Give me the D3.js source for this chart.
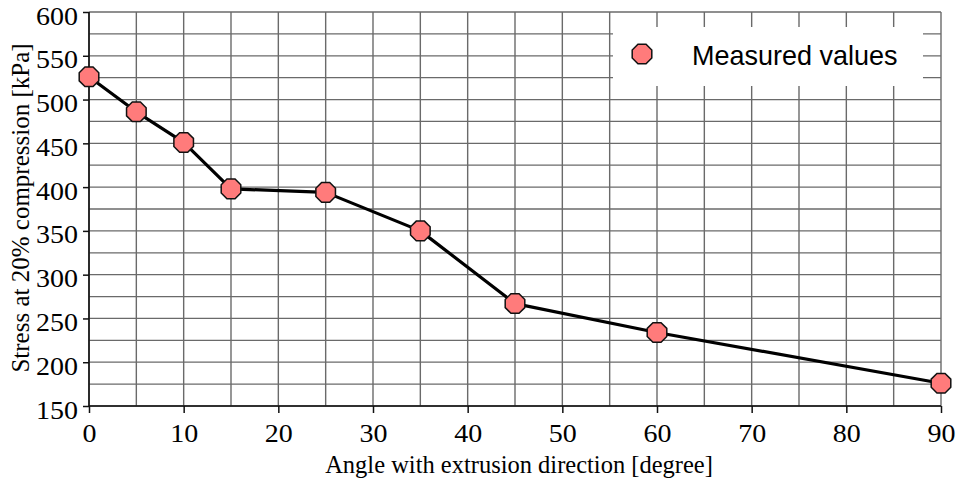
<!DOCTYPE html>
<html>
<head>
<meta charset="utf-8">
<script src="https://cdn.jsdelivr.net/npm/d3@7"></script>
<style>
  html, body { margin: 0; padding: 0; background: #fff; }
  svg { display: block; }
</style>
</head>
<body>
<svg id="chart" width="958" height="479"></svg>
<script>
// Compression stress versus angle to the extrusion direction
const angles = [0, 5, 10, 15, 25, 35, 45, 60, 90];
const stress = [526, 486, 451, 398, 394, 350, 267, 234, 176];
const xTickLabels = [0, 10, 20, 30, 40, 50, 60, 70, 80, 90];
const yTickLabels = [150, 200, 250, 300, 350, 400, 450, 500, 550, 600];
const xGridValues = d3.range(0, 91, 5);
const yGridValues = d3.range(150, 601, 25);
const seriesName = "Measured values";
const xTitle = "Angle with extrusion direction [degree]";
const yTitle = "Stress at 20% compression [kPa]";

const svg = d3.select("#chart");
const plotLeft = 89, plotRight = 941, plotTop = 12, plotBottom = 406;

const x = d3.scaleLinear().domain([0, 90]).range([plotLeft, plotRight]);
const y = d3.scaleLinear().domain([150, 600]).range([plotBottom, plotTop]);

const serif = "'Liberation Serif', 'Times New Roman', serif";
const sans = "'Liberation Sans', Arial, sans-serif";
const gridColor = "#6a6a6a";

// grid
const grid = svg.append("g");
grid.selectAll("line.v").data(xGridValues).join("line")
  .attr("class", "v")
  .attr("x1", d => x(d)).attr("x2", d => x(d))
  .attr("y1", plotTop).attr("y2", plotBottom)
  .attr("stroke", gridColor).attr("stroke-width", 1.4);
grid.selectAll("line.h").data(yGridValues).join("line")
  .attr("class", "h")
  .attr("x1", plotLeft).attr("x2", plotRight)
  .attr("y1", d => y(d)).attr("y2", d => y(d))
  .attr("stroke", gridColor).attr("stroke-width", 1.3);

// axes
const xAxis = d3.axisBottom(x).tickValues(xTickLabels).tickSize(7).tickFormat(d3.format("d"));
const yAxis = d3.axisLeft(y).tickValues(yTickLabels).tickSize(6).tickFormat(d3.format("d"));

const gx = svg.append("g").attr("transform", `translate(0,${plotBottom})`).call(xAxis);
const gy = svg.append("g").attr("transform", `translate(${plotLeft},0)`).call(yAxis);
[gx, gy].forEach(g => {
  g.select(".domain").remove();
  g.selectAll(".tick line").attr("stroke", "#111").attr("stroke-width", 1.5);
  g.selectAll("text").attr("fill", "#000").style("font-family", serif).style("font-size", "28px");
});
gx.selectAll("text")
  .attr("y", 0).attr("dy", null)
  .attr("transform", "translate(0,36) scale(1,0.87)");
gy.selectAll("text")
  .attr("x", 0).attr("dy", null)
  .attr("transform", "translate(-11,12) scale(1,0.87)");

svg.append("line").attr("x1", plotLeft).attr("x2", plotLeft).attr("y1", plotTop).attr("y2", plotBottom)
  .attr("stroke", "#111").attr("stroke-width", 1.6);
svg.append("line").attr("x1", plotLeft).attr("x2", plotRight).attr("y1", plotBottom).attr("y2", plotBottom)
  .attr("stroke", "#111").attr("stroke-width", 1.6);

// legend box covers the grid
svg.append("rect").attr("x", 613).attr("y", 27).attr("width", 310).attr("height", 59).attr("fill", "#fff");

// series line
const pts = angles.map((a, i) => [a, stress[i]]);
svg.append("path")
  .datum(pts)
  .attr("fill", "none")
  .attr("stroke", "#000")
  .attr("stroke-width", 3.2)
  .attr("stroke-linejoin", "round")
  .attr("d", d3.line().x(d => x(d[0])).y(d => y(d[1])));

// octagon marker
function octagon(r) {
  const p = d3.path();
  for (let k = 0; k < 8; k++) {
    const t = Math.PI / 8 + k * Math.PI / 4;
    const px = r * Math.cos(t), py = r * Math.sin(t);
    if (k === 0) p.moveTo(px, py); else p.lineTo(px, py);
  }
  p.closePath();
  return p.toString();
}
const markerPath = octagon(10.6);

svg.append("g").selectAll("path").data(pts).join("path")
  .attr("d", markerPath)
  .attr("transform", d => `translate(${x(d[0])},${y(d[1])})`)
  .attr("fill", "#ff7b7b")
  .attr("stroke", "#111")
  .attr("stroke-width", 1.5);

// legend
svg.append("path").attr("d", markerPath)
  .attr("transform", "translate(642,54)")
  .attr("fill", "#ff7b7b").attr("stroke", "#111").attr("stroke-width", 1.5);
svg.append("text").attr("x", 692).attr("y", 65)
  .style("font-family", sans).style("font-size", "27px")
  .attr("transform", "translate(0,65) scale(1,1.05) translate(0,-65)")
  .attr("fill", "#000").text(seriesName);

// titles
svg.append("text")
  .attr("transform", "translate(519,473) scale(1,1.05)")
  .attr("text-anchor", "middle")
  .style("font-family", serif).style("font-size", "24.5px")
  .text(xTitle);
svg.append("text")
  .attr("transform", "translate(29,208) rotate(-90)")
  .attr("text-anchor", "middle")
  .style("font-family", serif).style("font-size", "25px")
  .text(yTitle);
</script>
</body>
</html>
